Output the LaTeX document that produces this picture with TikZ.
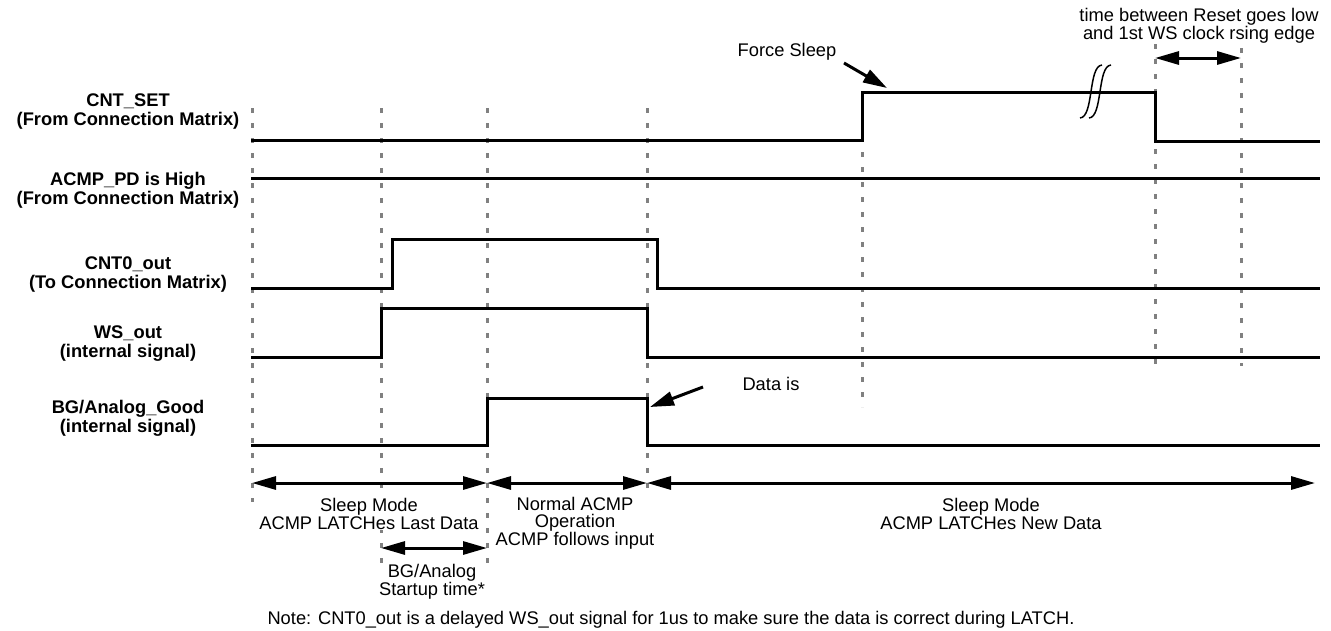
\documentclass[tikz,border=0pt]{standalone}
\usepackage{fontspec}
\setmainfont{Liberation Sans}
\usetikzlibrary{arrows.meta}

\begin{document}
\begin{tikzpicture}[
    x=1pt, y=-1pt,
    wave/.style={
        line width=3pt,
        line join=miter,
        line cap=rect
    },
    guide/.style={
        draw=gray,
        line width=3pt,
        dash pattern=on 5pt off 10pt
    },
    span/.style={{Triangle[length=24pt,width=13pt]}-{Triangle[length=24pt,width=13pt]}, line width=3pt},
    pointer/.style={-{Triangle[length=24pt,width=14pt]}, line width=3pt},
    siglabel/.style={
        align=center,
        inner sep=0pt,
        font=\fontsize{18.3}{19}\selectfont\bfseries
    },
    note/.style={
        align=center,
        inner sep=1pt,
        fill=white,
        font=\fontsize{18.3}{17.5}\selectfont
    }
]
\useasboundingbox (0,0) rectangle (1331,630);

% signal names
\node[siglabel] (cntset) at (128,112) {CNT\_SET\\(From Connection Matrix)};
\node[siglabel] (acmppd) at (128,190) {ACMP\_PD is High\\(From Connection Matrix)};
\node[siglabel] (cntout) at (128,275) {CNT0\_out\\(To Connection Matrix)};
\node[siglabel] (wsout) at (128,344) {WS\_out\\(internal signal)};
\node[siglabel] (bggood) at (128,418) {BG/Analog\_Good\\(internal signal)};

% time marks
\draw[guide] (252,108) -- (252,502);
\draw[guide] (381,108) -- (381,567);
\draw[guide] (487,108) -- (487,567);
\draw[guide] (647,108) -- (647,507);
\draw[guide] (862,92) -- (862,407);
\draw[guide] (1155,44) -- (1155,366);
\draw[guide] (1241,48) -- (1241,366);

% waveforms
\draw[wave] (252,140) -- (862,140) -- (862,92) -- (1155,92) -- (1155,141) -- (1318,141);
\draw[wave] (252,178) -- (1318,178);
\draw[wave] (252,288) -- (392,288) -- (392,239) -- (657,239) -- (657,288) -- (1318,288);
\draw[wave] (252,357) -- (381,357) -- (381,308) -- (647,308) -- (647,357) -- (1318,357);
\draw[wave] (252,445) -- (487,445) -- (487,398) -- (647,398) -- (647,445) -- (1318,445);

% break in CNT_SET
\draw[line width=1.5pt] (1080,118) .. controls (1094,117) and (1088,66) .. (1102,65);
\draw[line width=1.5pt] (1089,118) .. controls (1103,117) and (1097,66) .. (1111,65);

% spans
\coordinate (s0) at (252,483);
\coordinate (s1) at (487,483);
\coordinate (s2) at (647,483);
\coordinate (s3) at (1315,483);
\coordinate (u0) at (381,548);
\coordinate (u1) at (487,548);
\coordinate (r0) at (1155,58);
\coordinate (r1) at (1241,58);

\draw[span] (s0) -- (s1);
\draw[span] (s1) -- (s2);
\draw[span] (s2) -- (s3);
\draw[span] (u0) -- (u1);
\draw[span] (r0) -- (r1);

\node[note] (sleeplast) at (369,514) {Sleep Mode\\ACMP LATCHes Last Data};
\node[note] (normal) at (575,523) {Normal ACMP\\Operation\\ACMP follows input};
\node[note] (sleepnew) at (991,514) {Sleep Mode\\ACMP LATCHes New Data};
\node[note] (startup) at (432,582) {BG/Analog\\Startup time*};
\node[note] (resettime) at (1199,26) {time between Reset goes low\\and 1st WS clock rsing edge};

% callouts
\node[note] (force) at (787,52) {Force Sleep};
\coordinate (fstail) at (844,63);
\coordinate (fstip) at (887,88);
\draw[pointer] (fstail) -- (fstip);

\node[note] (datais) at (771,384) {Data is};
\coordinate (ditail) at (703,387);
\coordinate (ditip) at (650,407);
\draw[pointer] (ditail) -- (ditip);

\node[note] (footnote) at (671,620) {Note: CNT0\_out is a delayed WS\_out signal for 1us to make sure the data is correct during LATCH.};

\end{tikzpicture}
\end{document}
